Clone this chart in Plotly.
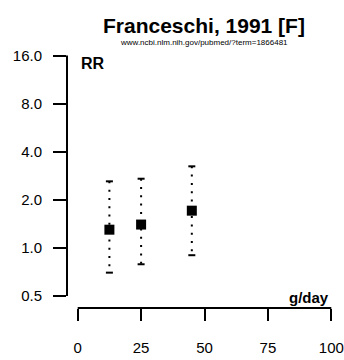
import math
import plotly.graph_objects as go

# ---- data ----
intake = [12.5, 25, 45]            # g/day
rr = [1.30, 1.40, 1.71]            # relative risk
rr_low = [0.70, 0.79, 0.90]
rr_high = [2.61, 2.71, 3.24]
x_ticks = [0, 25, 50, 75, 100]
y_ticks = [0.5, 1, 2, 4, 8, 16]
y_tick_text = ["0.5", "1.0", "2.0", "4.0", "8.0", "16.0"]
title = "Franceschi, 1991 [F]"
subtitle = "www.ncbi.nlm.nih.gov/pubmed/?term=1866481"

# ---- geometry (pixels) ----
W, H = 344, 360
L, R = 67, 332
T, B = 55, 308
x0px, x100px = 77.7, 331.3
ppu = (x100px - x0px) / 100.0
xr = [(L - x0px) / ppu, (R - x0px) / ppu]
y16px, y05px = 55.5, 296.0
ppl = (y05px - y16px) / (math.log10(16) - math.log10(0.5))
yr = [math.log10(0.5) - (B - y05px) / ppl, math.log10(16) + (y16px - T) / ppl]

def ypaper(v):
    return (math.log10(v) - yr[0]) / (yr[1] - yr[0])

def xpaper_px(px):
    return (px - L) / (R - L)

def ypaper_px(py):
    return (B - py) / (B - T)

FONT = "Liberation Sans, Arial, Helvetica, sans-serif"

fig = go.Figure()

# dotted CI lines
ex, ey = [], []
for x, lo, hi in zip(intake, rr_low, rr_high):
    ex += [x, x, None]
    ey += [hi, lo, None]
fig.add_trace(go.Scatter(x=ex, y=ey, mode="lines",
                         line=dict(color="black", width=2, dash="2px,6.3px"),
                         hoverinfo="skip", showlegend=False))
# caps
fig.add_trace(go.Scatter(x=intake + intake, y=rr_low + rr_high, mode="markers",
                         marker=dict(symbol="line-ew", size=5,
                                     line=dict(color="black", width=2)),
                         hoverinfo="skip", showlegend=False))
# point estimates
fig.add_trace(go.Scatter(x=intake, y=rr, mode="markers",
                         marker=dict(symbol="square", size=10, color="black",
                                     line=dict(width=0)),
                         showlegend=False))

fig.update_layout(
    template="none",
    width=W, height=H,
    margin=dict(l=L, r=W - R, t=T, b=H - B, pad=0, autoexpand=False),
    paper_bgcolor="white", plot_bgcolor="white",
    font=dict(family=FONT, color="black"),
    xaxis=dict(range=xr, tickvals=x_ticks, ticktext=[str(v) for v in x_ticks],
               ticks="outside", ticklen=12, tickwidth=2, tickcolor="black",
               showgrid=False, zeroline=False, showline=False, automargin=False,
               tickfont=dict(size=15, family=FONT, color="black"),
               ticklabelstandoff=14),
    yaxis=dict(type="log", range=yr, tickvals=y_ticks, ticktext=y_tick_text,
               ticks="outside", ticklen=13, tickwidth=2, tickcolor="black",
               showgrid=False, zeroline=False, showline=False, automargin=False,
               tickfont=dict(size=15, family=FONT, color="black"),
               ticklabelstandoff=8),
    shapes=[
        dict(type="line", xref="paper", yref="paper", x0=0, x1=0,
             y0=ypaper(y_ticks[0]), y1=ypaper(y_ticks[-1]),
             line=dict(color="black", width=2)),
        dict(type="line", xref="x", yref="paper", x0=x_ticks[0], x1=x_ticks[-1],
             y0=0, y1=0, line=dict(color="black", width=2)),
    ],
    annotations=[
        dict(text="<b>" + title + "</b>", xref="paper", yref="paper",
             x=xpaper_px(204), y=ypaper_px(25), xanchor="center", yanchor="middle",
             showarrow=False, font=dict(size=21, family=FONT, color="black")),
        dict(text=subtitle, xref="paper", yref="paper",
             x=xpaper_px(204), y=ypaper_px(42), xanchor="center", yanchor="middle",
             showarrow=False, font=dict(size=8, family=FONT, color="black")),
        dict(text="<b>RR</b>", xref="paper", yref="paper",
             x=xpaper_px(79), y=ypaper_px(63), xanchor="left", yanchor="middle",
             showarrow=False, font=dict(size=16, family=FONT, color="black")),
        dict(text="<b>g/day</b>", xref="paper", yref="paper",
             x=xpaper_px(331), y=ypaper_px(297), xanchor="right", yanchor="middle",
             showarrow=False, font=dict(size=15, family=FONT, color="black")),
    ],
)

fig.write_html("out.html", config={"displayModeBar": False, "responsive": False},
               post_script="document.body.style.margin='0';document.body.style.overflow='hidden';")
